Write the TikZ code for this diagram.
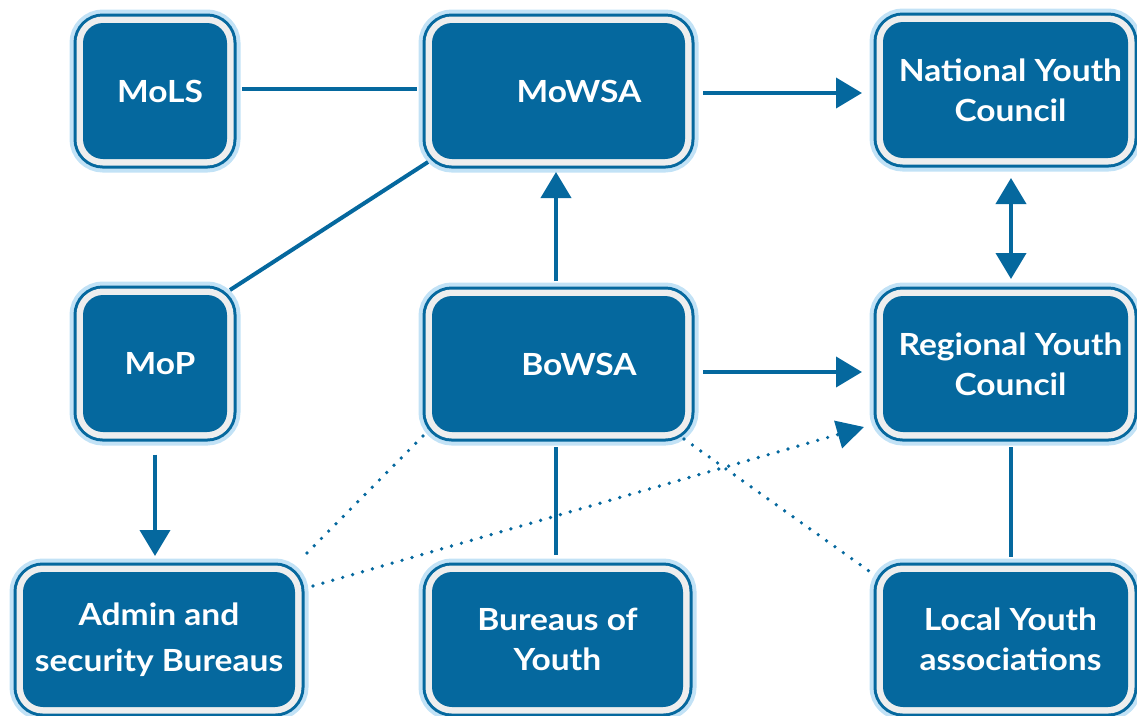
\documentclass[tikz,border=0pt]{standalone}
\usepackage{fontspec}
\setmainfont{Lato}[FakeStretch=1.1]
\usetikzlibrary{arrows.meta,calc}
\definecolor{dblue}{HTML}{05689E}
\definecolor{halo}{HTML}{C2E2F6}
\definecolor{ring}{HTML}{EEEEEE}
\newcommand{\sh}{\hspace*{10pt}}
\tikzset{
  box/.style={rectangle, rounded corners=20pt, inner sep=0pt, outer sep=15pt,
    fill=dblue, text=white, align=center,
    font=\bfseries\fontsize{30.5pt}{40pt}\selectfont,
    preaction={draw=halo, line width=27pt},
    preaction={draw=dblue, line width=19pt},
    preaction={draw=ring, line width=13pt}},
  conn/.style={draw=dblue, line width=4pt},
  arr/.style={conn, -{Triangle[length=26pt,width=30pt]}},
  darr/.style={conn, {Triangle[length=26pt,width=30pt]}-{Triangle[length=26pt,width=30pt]}},
  dot/.style={draw=dblue, line width=3.7pt, line cap=round, dash pattern=on 0pt off 10.3pt},
}
\begin{document}
\begin{tikzpicture}[x=1pt,y=-1pt]
\useasboundingbox (0,0) rectangle (1137,715);
\clip (0,0) rectangle (1137,715);
% nodes
\node[box, minimum width=144pt, minimum height=136pt] (mols) at (155,91) {\sh MoLS};
\node[box, minimum width=253pt, minimum height=136pt] (mowsa) at (558.5,91) {\hspace*{41pt}MoWSA};
\node[box, minimum width=245pt, minimum height=136pt] (nyc) at (1005.5,90) {\sh National Youth\\\sh Council};
\node[box, minimum width=144pt, minimum height=137pt] (mop) at (155,363.5) {\sh MoP};
\node[box, minimum width=253pt, minimum height=136pt] (bowsa) at (558.5,364) {\hspace*{41pt}BoWSA};
\node[box, minimum width=245pt, minimum height=136pt] (ryc) at (1005.5,364) {\sh Regional Youth\\\sh Council};
\node[box, minimum width=272pt, minimum height=135pt] (admin) at (159,639.5) {Admin and\\[6pt]security Bureaus};
\node[box, minimum width=251pt, minimum height=135pt] (bureaus) at (557.5,639.5) {Bureaus of\\Youth};
\node[box, minimum width=245pt, minimum height=135pt] (local) at (1005.5,639.5) {\sh Local Youth\\\sh associations};
% solid connectors
\draw[conn] ($(mols.east)+(0,-2)$) -- ($(mowsa.west)+(0,-2)$);
\draw[conn] ($(mop.north east)+(-12,10)$) -- ($(mowsa.south west)+(11,-12)$);
\draw[arr] ($(mowsa.east)+(3,2)$) -- ($(nyc.west)+(-6,3)$);
\draw[arr] ($(bowsa.north)+(-2.5,0)$) -- ($(mowsa.south)+(-2.5,-2)$);
\draw[darr] ($(nyc.south)+(5.5,5)$) -- ($(ryc.north)+(5.5,-2)$);
\draw[arr] ($(bowsa.east)+(3,8)$) -- ($(ryc.west)+(-6,8)$);
\draw[arr] ($(mop.south)+(0,7.5)$) -- ($(mop.south |- admin.north)+(0,-1)$);
\draw[conn] ($(bowsa.south)+(-2.5,0)$) -- ($(bowsa.south |- bureaus.north)+(-2.5,-2)$);
\draw[conn] ($(ryc.south)+(5.5,0)$) -- ($(local.north)+(5.5,0)$);
% dotted connectors
\draw[dot] ($(bowsa.south west)+(6,-11)$) -- ($(admin.north east)+(-8,1)$);
\draw[dot, -{Triangle[length=27pt,width=28pt]}] ($(admin.north east)+(3,29)$) -- ($(ryc.south west)+(-4,-20)$);
\draw[dot] ($(bowsa.south east)+(-16,-8)$) -- ($(local.north west)+(1,14)$);
\end{tikzpicture}
\end{document}
